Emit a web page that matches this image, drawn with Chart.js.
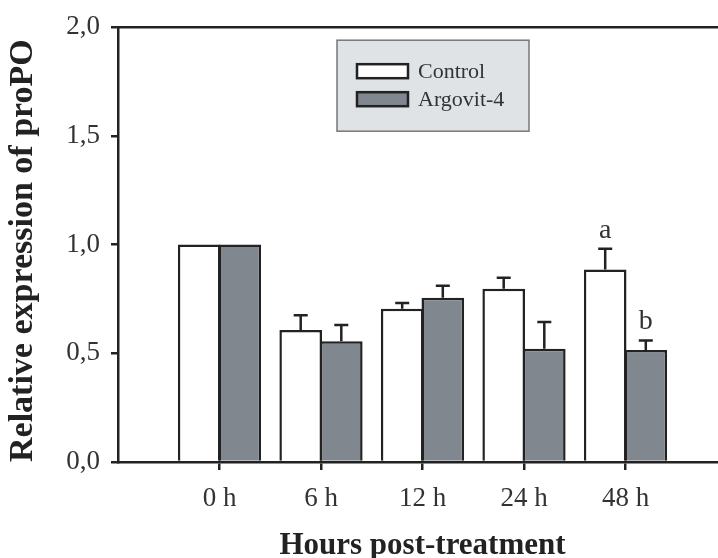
<!DOCTYPE html>
<html><head><meta charset="utf-8">
<script src="https://cdn.jsdelivr.net/npm/chart.js@4"></script>
<style>html,body{margin:0;padding:0;overflow:hidden;background:#fff;width:718px;height:558px}</style>
</head><body>
<canvas id="c" width="745" height="558" style="display:block;width:745px;height:558px"></canvas>
<script>
const categories = ['0 h', '6 h', '12 h', '24 h', '48 h'];
const seriesNames = ['Control', 'Argovit-4'];
const controlValues = [1.0, 0.607, 0.705, 0.797, 0.885];
const controlErrors = [0, 0.068, 0.026, 0.050, 0.096];
const argovitValues = [1.0, 0.556, 0.756, 0.521, 0.515];
const argovitErrors = [0, 0.074, 0.055, 0.123, 0.044];
const controlLetters = ['', '', '', '', 'a'];
const argovitLetters = ['', '', '', '', 'b'];
const yTickValues = [0, 0.5, 1.0, 1.5, 2.0];

const FONT = "'Liberation Serif', 'Times New Roman', serif";
const pad = arr => [null, ...arr, null];
const labels = ['', ...categories, ''];
const errorSets = [controlErrors, argovitErrors];
const letterSets = [controlLetters, argovitLetters];
const fills = ['#ffffff', '#80878e'];

const extras = {
  id: 'extras',
  afterDatasetsDraw(chart) {
    const {ctx, chartArea, scales} = chart;
    const y = scales.y;
    ctx.save();
    // top frame line
    ctx.strokeStyle = '#222';
    ctx.lineWidth = 2.5;
    ctx.beginPath();
    ctx.moveTo(chartArea.left - 1, chartArea.top);
    ctx.lineTo(chartArea.right, chartArea.top);
    ctx.stroke();
    // error bars and letters
    chart.data.datasets.forEach((ds, di) => {
      const meta = chart.getDatasetMeta(di);
      meta.data.forEach((bar, i) => {
        const v = ds.data[i];
        if (v == null) return;
        const e = errorSets[di][i - 1];
        const x = bar.x;
        const yTop = y.getPixelForValue(v);
        const yErr = y.getPixelForValue(v + e);
        if (e > 0) {
          ctx.strokeStyle = '#222';
          ctx.lineWidth = 2.5;
          ctx.beginPath();
          ctx.moveTo(x, yTop);
          ctx.lineTo(x, yErr);
          ctx.moveTo(x - 7, yErr);
          ctx.lineTo(x + 7, yErr);
          ctx.stroke();
        }
        const letter = letterSets[di][i - 1];
        if (letter) {
          ctx.fillStyle = '#333';
          ctx.font = '28px ' + FONT;
          ctx.textAlign = 'center';
          ctx.textBaseline = 'alphabetic';
          ctx.fillText(letter, x, yErr - 11);
        }
      });
    });
    // legend box
    const lx = chartArea.left + 219, ly = chartArea.top + 13, lw = 192, lh = 91;
    ctx.fillStyle = '#dfe3e6';
    ctx.fillRect(lx, ly, lw, lh);
    ctx.strokeStyle = '#777';
    ctx.lineWidth = 1.5;
    ctx.strokeRect(lx, ly, lw, lh);
    seriesNames.forEach((name, k) => {
      const sy = ly + 24 + k * 28;
      ctx.fillStyle = fills[k];
      ctx.fillRect(lx + 20, sy, 51, 14);
      ctx.strokeStyle = '#222';
      ctx.lineWidth = 2.5;
      ctx.strokeRect(lx + 20, sy, 51, 14);
      ctx.fillStyle = '#333';
      ctx.font = '22px ' + FONT;
      ctx.textAlign = 'left';
      ctx.textBaseline = 'middle';
      ctx.fillText(name, lx + 81, sy + 8);
    });
    ctx.restore();
  }
};

new Chart(document.getElementById('c'), {
  type: 'bar',
  data: {
    labels: labels,
    datasets: [
      {label: seriesNames[0], data: pad(controlValues), backgroundColor: fills[0], borderColor: '#222', borderWidth: 2.5, borderSkipped: 'bottom', categoryPercentage: 0.8, barPercentage: 1.05},
      {label: seriesNames[1], data: pad(argovitValues), backgroundColor: fills[1], borderColor: '#222', borderWidth: 2.5, borderSkipped: 'bottom', categoryPercentage: 0.8, barPercentage: 1.05}
    ]
  },
  options: {
    responsive: false,
    animation: false,
    devicePixelRatio: 1,
    layout: {padding: {left: 0, top: 23, right: 18, bottom: 0}},
    plugins: {legend: {display: false}, tooltip: {enabled: false}},
    scales: {
      x: {
        offset: false,
        afterFit(s) { s.height = 96; },
        grid: {offset: false, drawOnChartArea: false, drawTicks: true, tickLength: 8, lineWidth: 2.5,
               color: c => (labels[c.index] ? '#222' : 'rgba(0,0,0,0)')},
        border: {display: true, color: '#222', width: 2.5},
        ticks: {color: '#333', font: {family: FONT, size: 27}, padding: 13, maxRotation: 0, autoSkip: false},
        title: {display: true, text: 'Hours post-treatment', color: '#222', font: {family: FONT, size: 31, weight: 'bold'}, padding: {top: 0, bottom: -7}}
      },
      y: {
        min: 0, max: 2,
        afterFit(s) { s.width = 118; },
        afterBuildTicks(s) { s.ticks = yTickValues.map(v => ({value: v})); },
        grid: {drawOnChartArea: false, drawTicks: true, tickLength: 7, lineWidth: 2.5, color: '#222'},
        border: {display: true, color: '#222', width: 2.5},
        ticks: {color: '#333', font: {family: FONT, size: 27}, padding: 11,
                callback: v => v.toFixed(1).replace('.', ',')},
        title: {display: true, text: 'Relative expression of proPO', color: '#222', align: 'start', font: {family: FONT, size: 34, weight: 'bold'}, padding: {top: 3, bottom: 0}}
      }
    }
  },
  plugins: [extras]
});
</script>
</body></html>
